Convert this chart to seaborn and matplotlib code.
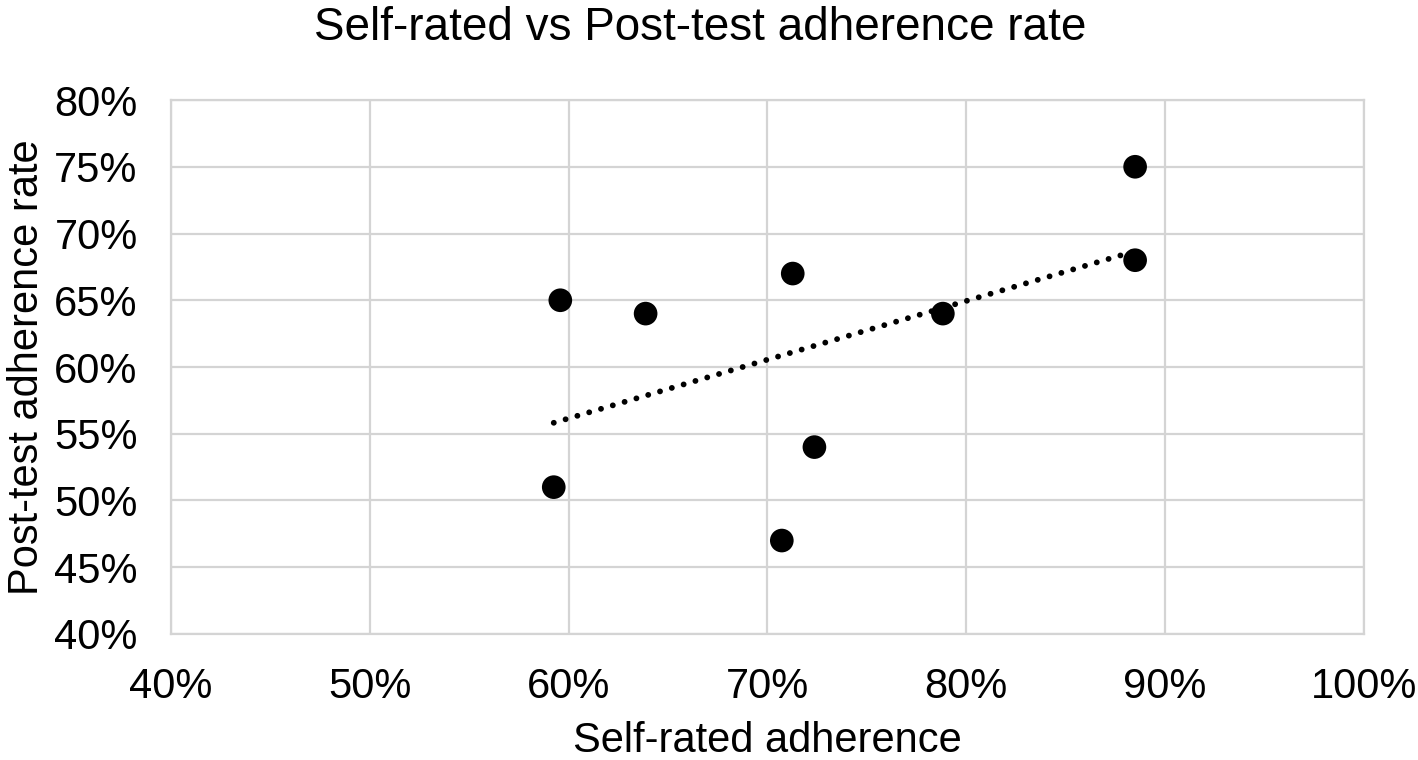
import numpy as np
import pandas as pd
import seaborn as sns
import matplotlib.pyplot as plt
from matplotlib.ticker import PercentFormatter, MultipleLocator

# values (fractions)
self_rated = [0.5958, 0.6387, 0.7127, 0.7236, 0.5925, 0.7072, 0.7882, 0.8849, 0.8849]
post_test = [0.65, 0.64, 0.67, 0.54, 0.51, 0.47, 0.64, 0.75, 0.68]

df = pd.DataFrame({"self_rated": self_rated, "post_test": post_test})

sns.set_style("white")
plt.rcParams['font.family'] = ['Liberation Sans', 'DejaVu Sans']
plt.rcParams['text.color'] = 'black'
plt.rcParams['axes.labelcolor'] = 'black'
plt.rcParams['xtick.color'] = 'black'
plt.rcParams['ytick.color'] = 'black'

fig = plt.figure(figsize=(14.18, 7.6), dpi=100)
ax = fig.add_axes([0.1206, 0.1658, 0.8413, 0.7026])

grid_col = "#d4d4d4"

sns.regplot(data=df, x="self_rated", y="post_test", scatter=False, ci=None, truncate=True, ax=ax,
            line_kws={"color": "black", "linewidth": 4.2, "linestyle": (0, (0.01, 2.1)),
                      "dash_capstyle": "round", "zorder": 2})
sns.scatterplot(data=df, x="self_rated", y="post_test", color="black", s=290, edgecolor="none",
                ax=ax, zorder=3)

ax.set_xlim(0.4, 1.0)
ax.set_ylim(0.4, 0.8)
ax.xaxis.set_major_locator(MultipleLocator(0.1))
ax.yaxis.set_major_locator(MultipleLocator(0.05))
ax.xaxis.set_major_formatter(PercentFormatter(1.0, decimals=0))
ax.yaxis.set_major_formatter(PercentFormatter(1.0, decimals=0))
ax.grid(True, color=grid_col, linewidth=1.6, zorder=0)
ax.set_axisbelow(True)
for sp in ax.spines.values():
    sp.set_color(grid_col)
    sp.set_linewidth(1.6)

ax.tick_params(axis="x", length=0, pad=24, labelsize=30)
ax.tick_params(axis="y", length=0, pad=24, labelsize=30)

ax.set_xlabel("Self-rated adherence", fontsize=30, labelpad=10)
ax.set_ylabel("Post-test adherence rate", fontsize=30, labelpad=5)
fig.text(700 / 1418, 0.992, "Self-rated vs Post-test adherence rate", fontsize=33,
         ha="center", va="top")

fig.savefig("out.png", dpi=100)
